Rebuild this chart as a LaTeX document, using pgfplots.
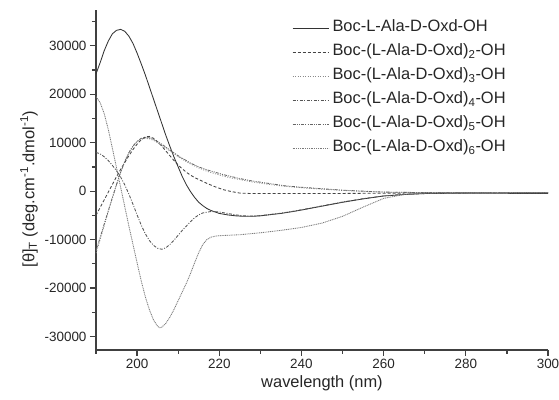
\documentclass[border=0pt]{standalone}
\usepackage{fontspec}
\setmainfont{Liberation Sans}
\usepackage{pgfplots}
\pgfplotsset{compat=1.18}
\definecolor{cA}{HTML}{333333}
\definecolor{cB}{HTML}{444444}
\definecolor{cC}{HTML}{8A8A8A}
\definecolor{cD}{HTML}{555555}
\definecolor{cE}{HTML}{666666}
\definecolor{cF}{HTML}{7A7A7A}
\newcommand{\lf}{\fontsize{16.5}{19}\selectfont}
\begin{document}
\begin{tikzpicture}
\begin{axis}[
  scale only axis, width=452bp, height=340bp,
  xmin=190, xmax=300, ymin=-32800, ymax=37400,
  axis x line=bottom, axis y line=left,
  axis line style={-, line width=1.3pt, color=black!75},
  xtick={200,220,...,300}, minor xtick={190,210,...,290},
  ytick={-30000,-20000,...,30000}, minor ytick={-25000,-15000,...,35000},
  tick align=outside, major tick length=6bp, minor tick length=4bp,
  every tick/.style={line width=1.2pt, black!75},
  scaled y ticks=false,
  yticklabel style={/pgf/number format/.cd, fixed, 1000 sep={}, assume math mode=true},
  xticklabel style={/pgf/number format/.cd, fixed, 1000 sep={}, assume math mode=true},
  tick label style={font=\fontsize{13.5}{16}\selectfont, text=black!85},
  label style={font=\fontsize{16.5}{19}\selectfont, text=black!85},
  xlabel={wavelength (nm)},
  ylabel={[θ]\textsubscript{T} (deg.cm\textsuperscript{-1}.dmol\textsuperscript{-1})},
  ylabel style={at={(ticklabel cs:0.4735)}},
  legend cell align=left,
  legend image code/.code={\draw[#1] (0bp,0bp) -- (36bp,0bp);},
  legend style={draw=none, fill=none, at={(0.4336,0.978)}, anchor=north west,
    inner sep=0pt, row sep=3bp, font=\lf,
    nodes={text=black!85, inner xsep=3.5bp, inner ysep=2pt, text height=12bp, text depth=5bp}},
  every axis plot/.append style={line width=0.85pt},
]
% n=1 solid
\addplot[cA, solid] coordinates {
(190,24200)(191,26500)(192,29000)(193,31000)(194,32500)(195,33200)(196,33400)(197,33000)(198,32000)(199,30500)(200,28500)(201,26300)(202,24000)(203,21500)(204,19000)(205,16500)(206,14000)(207,11500)(208,9200)(209,7000)(210,5000)(211,3000)(212,1300)(213,-100)(214,-1300)(215,-2300)(216,-3000)(217,-3600)(218,-4000)(220,-4600)(222,-4900)(224,-5100)(226,-5200)(228,-5200)(230,-5100)(232,-4900)(235,-4600)(238,-4200)(240,-3900)(245,-3100)(250,-2300)(255,-1600)(260,-1000)(265,-700)(270,-500)(280,-400)(290,-450)(300,-500)};
\addlegendentry{\lf Boc-L-Ala-D-Oxd-OH}
% n=2 dashed
\addplot[cB, dash pattern=on 3bp off 2bp] coordinates {
(190,-5000)(191,-3400)(192,-1800)(193,-200)(194,1400)(195,3000)(196,4500)(197,5900)(198,7300)(199,8600)(200,9700)(201,10600)(202,11200)(203,11300)(204,10900)(205,10200)(206,9300)(207,8300)(208,7300)(209,6300)(210,5400)(211,4600)(212,3900)(213,3300)(214,2800)(215,2400)(217,1600)(219,900)(221,300)(223,-100)(225,-400)(228,-500)(235,-500)(245,-500)(255,-450)(265,-400)(280,-350)(300,-300)};
\addlegendentry{\lf Boc-(L-Ala-D-Oxd)\textsubscript{2}-OH}
% n=3 dotted
\addplot[cC, dash pattern=on 1bp off 1.5bp] coordinates {
(190,-12800)(191,-10000)(192,-7100)(193,-4200)(194,-1400)(195,1300)(196,3900)(197,6200)(198,8000)(199,9300)(200,10200)(201,10700)(202,10900)(203,10800)(204,10500)(205,10000)(206,9500)(207,8900)(208,8300)(209,7700)(210,7100)(211,6600)(212,6100)(213,5600)(215,4800)(217,4100)(219,3600)(221,3100)(223,2700)(225,2400)(228,1900)(232,1400)(236,1000)(240,700)(245,400)(250,150)(255,-50)(260,-200)(270,-300)(285,-300)(300,-300)};
\addlegendentry{\lf Boc-(L-Ala-D-Oxd)\textsubscript{3}-OH}
% n=4 dash-dot
\addplot[cD, dash pattern=on 3bp off 1.5bp on 1bp off 1.5bp] coordinates {
(190,8000)(191,7700)(192,7100)(193,6300)(194,5300)(195,4200)(196,2900)(197,1300)(198,-600)(199,-2700)(200,-4900)(201,-7000)(202,-8800)(203,-10200)(204,-11200)(205,-11800)(206,-12000)(207,-11700)(208,-11000)(209,-10100)(210,-9100)(211,-8100)(212,-7200)(213,-6300)(214,-5500)(215,-4900)(216,-4500)(218,-4200)(220,-4300)(222,-4600)(224,-4900)(226,-5100)(228,-5150)(230,-5050)(232,-4850)(235,-4550)(238,-4150)(240,-3850)(245,-3050)(250,-2250)(255,-1550)(260,-1000)(265,-650)(270,-500)(280,-400)(290,-400)(300,-400)};
\addlegendentry{\lf Boc-(L-Ala-D-Oxd)\textsubscript{4}-OH}
% n=5 dash-dot-dot
\addplot[cE, dash pattern=on 3bp off 1.2bp on 1bp off 1.2bp on 1bp off 1.2bp] coordinates {
(190,-12300)(191,-9600)(192,-6800)(193,-4000)(194,-1300)(195,1400)(196,3900)(197,6100)(198,7900)(199,9300)(200,10300)(201,10900)(202,11100)(203,11000)(204,10700)(205,10200)(206,9700)(207,9100)(208,8500)(209,7900)(210,7300)(211,6800)(212,6300)(213,5800)(215,5000)(217,4400)(219,3900)(221,3400)(223,3000)(225,2600)(228,2100)(232,1600)(236,1100)(240,800)(245,500)(250,200)(255,0)(260,-200)(270,-300)(300,-300)};
\addlegendentry{\lf Boc-(L-Ala-D-Oxd)\textsubscript{5}-OH}
% n=6 fine dotted
\addplot[cF, dash pattern=on 1bp off 0.8bp] coordinates {
(190,19500)(191,18300)(192,16000)(193,12700)(194,8800)(195,4800)(196,800)(197,-3200)(198,-7200)(199,-11000)(200,-14800)(201,-18500)(202,-21800)(203,-24500)(204,-26600)(205,-27900)(205.5,-28200)(206,-28100)(207,-27300)(208,-26000)(209,-24400)(210,-22600)(211,-20800)(212,-19000)(213,-17000)(214,-14800)(215,-12700)(216,-11000)(217,-10000)(218,-9500)(219,-9300)(220,-9200)(225,-9000)(230,-8600)(235,-8100)(240,-7500)(245,-6600)(250,-5200)(255,-3300)(260,-1500)(265,-700)(270,-400)(280,-300)(300,-300)};
\addlegendentry{\lf Boc-(L-Ala-D-Oxd)\textsubscript{6}-OH}
\coordinate (O) at (rel axis cs:0,0);
\end{axis}
\pgfresetboundingbox
\path[use as bounding box] ([shift={(-96bp,-50bp)}]O) rectangle ([shift={(463bp,350bp)}]O);
\end{tikzpicture}
\end{document}
